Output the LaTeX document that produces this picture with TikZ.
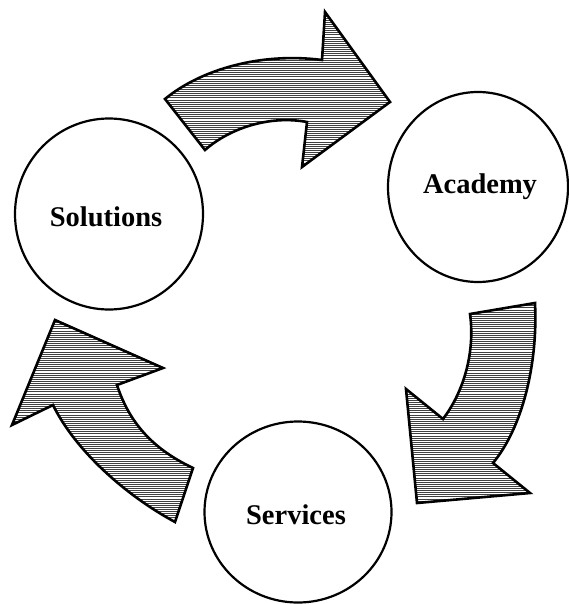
\documentclass[tikz,border=0pt]{standalone}
\usepackage{fontspec}
\setmainfont{Liberation Serif}
\usetikzlibrary{patterns}
\pgfdeclarepatternformonly{denselines}{\pgfqpoint{0pt}{-0.6pt}}{\pgfqpoint{3pt}{1.6pt}}{\pgfqpoint{3pt}{2.1pt}}{%
  \pgfsetlinewidth{0.8pt}%
  \pgfpathmoveto{\pgfqpoint{0pt}{0pt}}%
  \pgfpathlineto{\pgfqpoint{3.1pt}{0pt}}%
  \pgfusepathqstroke}
\tikzset{
  hub/.style={draw=black, line width=2.2pt, fill=white},
  lbl/.style={font=\fontsize{28.5}{30}\selectfont\bfseries},
  bigarrow/.style={draw=black, line width=2.6pt, line join=miter, pattern=denselines, pattern color=black!75},
}
\begin{document}
\begin{tikzpicture}[x=1pt,y=-1pt]
\useasboundingbox (0,0) rectangle (569,604);
\clip (0,0) rectangle (569,604);
% circles
\draw[hub] (109,214) ellipse [x radius=94, y radius=95.5];
\draw[hub] (478,187) ellipse [x radius=90, y radius=95];
\draw[hub] (298,512) ellipse [x radius=93.5, y radius=90.5];
\node[lbl] (sol) at (106,217) {Solutions};
\node[lbl] (aca) at (480,187) {Academy};
\node[lbl] (ser) at (296,515) {Services};
% arrows
\path[bigarrow] (165,99) .. controls (200,70) and (260,52) .. (322,60) -- (325,12) -- (390,102) -- (302,167) -- (307,122) .. controls (270,115) and (230,128) .. (205,150) -- cycle;
\path[bigarrow] (535,303) .. controls (538,365) and (522,428) .. (493,463) -- (530,493) -- (417,503) -- (406,389) -- (443,419) .. controls (465,390) and (475,350) .. (470,314) -- cycle;
\path[bigarrow] (55,320) -- (163,368) -- (117,385) .. controls (130,425) and (155,450) .. (193,468) -- (175,522) .. controls (125,495) and (75,450) .. (53,405) -- (12,425) -- cycle;
\end{tikzpicture}
\end{document}
